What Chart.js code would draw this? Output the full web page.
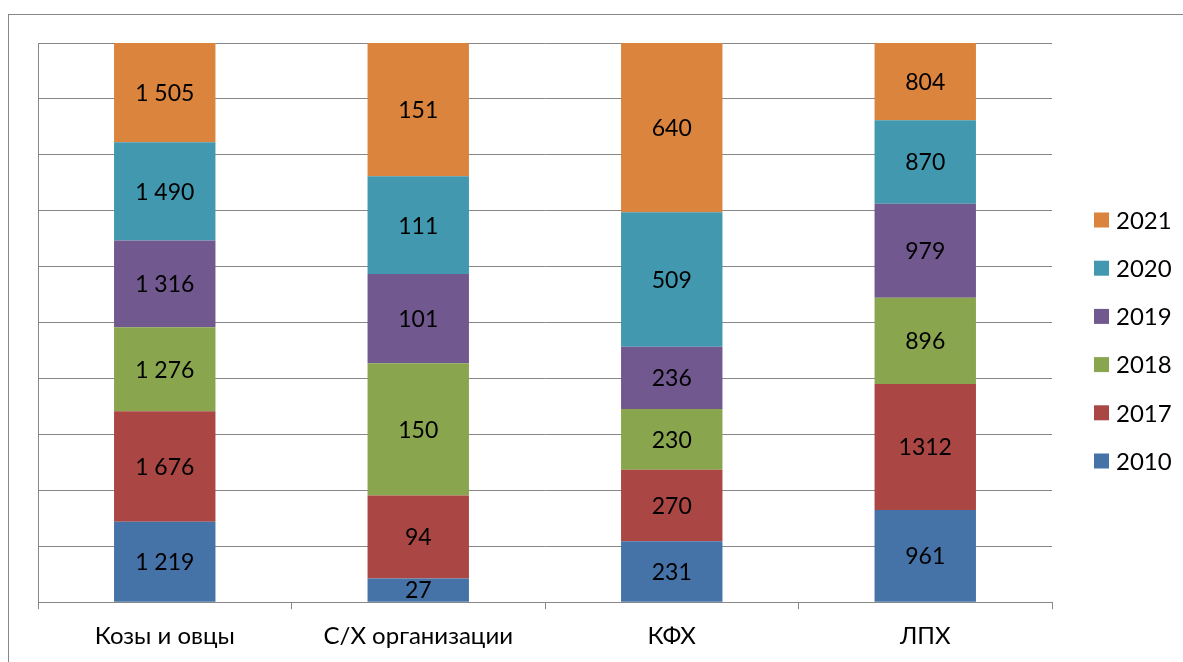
<!DOCTYPE html>
<html>
<head>
<meta charset="utf-8">
<script src="https://cdn.jsdelivr.net/npm/chart.js@4.4.0/dist/chart.umd.min.js"></script>
<style>
  html, body { margin: 0; padding: 0; background: #fff; overflow: hidden; }
  #wrap { position: relative; width: 1183px; height: 662px; overflow: hidden; }
  #frame { position: absolute; left: 8px; top: 14px; width: 1300px; height: 800px;
           border: 1px solid #878787; pointer-events: none; }
</style>
</head>
<body>
<div id="wrap">
  <canvas id="chart" width="1183" height="700"></canvas>
  <div id="frame"></div>
</div>
<script>
// Categories and values per year
const categories = ['Козы и овцы', 'С/Х организации', 'КФХ', 'ЛПХ'];
const years = ['2010', '2017', '2018', '2019', '2020', '2021'];
const v2010 = [1219, 27, 231, 961];
const v2017 = [1676, 94, 270, 1312];
const v2018 = [1276, 150, 230, 896];
const v2019 = [1316, 101, 236, 979];
const v2020 = [1490, 111, 509, 870];
const v2021 = [1505, 151, 640, 804];
const colors = ['#4572A7', '#AA4643', '#89A54E', '#71588F', '#4198AF', '#DB843D'];
// the source shows 1312 without a thousands space in this column
const noGroupCols = ['ЛПХ'];

const series = [v2010, v2017, v2018, v2019, v2020, v2021];
const totals = categories.map((c, i) => series.reduce((s, arr) => s + arr[i], 0));

function fmt(v, i) {
    if (noGroupCols.includes(categories[i])) return String(v);
    return String(v).replace(/\B(?=(\d{3})+(?!\d))/g, ' ');
}

const FONT = 'Lato, "Open Sans", sans-serif';

// Values written in the middle of each segment
const barLabels = {
    id: 'barLabels',
    afterDatasetsDraw(chart) {
        const ctx = chart.ctx;
        ctx.save();
        ctx.font = '23px ' + FONT;
        ctx.fillStyle = '#000';
        ctx.textAlign = 'center';
        ctx.textBaseline = 'middle';
        chart.data.datasets.forEach((ds, di) => {
            chart.getDatasetMeta(di).data.forEach((bar, i) => {
                ctx.fillText(fmt(ds.raw[i], i), bar.x, (bar.y + bar.base) / 2 + 1);
            });
        });
        ctx.restore();
    }
};

// Legend on the right, newest year at top
const sideLegend = {
    id: 'sideLegend',
    afterDraw(chart) {
        const ctx = chart.ctx;
        const area = chart.chartArea;
        const x = area.right + 42;
        const step = 48.2;
        const items = chart.data.datasets.slice().reverse();
        const top = 220;
        ctx.save();
        ctx.font = '24px ' + FONT;
        ctx.textBaseline = 'middle';
        items.forEach((ds, k) => {
            const y = top + k * step;
            ctx.fillStyle = ds.backgroundColor;
            ctx.fillRect(x, y - 7.5, 15, 15);
            ctx.fillStyle = '#000';
            ctx.fillText(ds.label, x + 22, y + 1);
        });
        ctx.restore();
    }
};

const datasets = series.map((arr, k) => ({
    label: years[k],
    raw: arr,
    data: arr.map((v, i) => v / totals[i] * 100),
    backgroundColor: colors[k],
    borderWidth: 0,
    barPercentage: 0.4,
    categoryPercentage: 1
}));

new Chart(document.getElementById('chart'), {
    type: 'bar',
    data: { labels: categories, datasets: datasets },
    options: {
        responsive: false,
        animation: false,
        layout: { padding: { left: 38, top: 43, right: 131, bottom: 36 } },
        plugins: { legend: { display: false }, tooltip: { enabled: false } },
        scales: {
            x: {
                stacked: true,
                grid: {
                    offset: true,
                    drawOnChartArea: false,
                    drawTicks: true,
                    tickLength: 7,
                    color: '#878787'
                },
                border: { color: '#878787' },
                ticks: { color: '#000', font: { family: FONT, size: 24 }, padding: 13 }
            },
            y: {
                stacked: true,
                min: 0,
                max: 100,
                grid: { color: '#878787', drawTicks: false },
                border: { color: '#878787' },
                ticks: { display: false, stepSize: 10 }
            }
        }
    },
    plugins: [barLabels, sideLegend]
});
</script>
</body>
</html>
